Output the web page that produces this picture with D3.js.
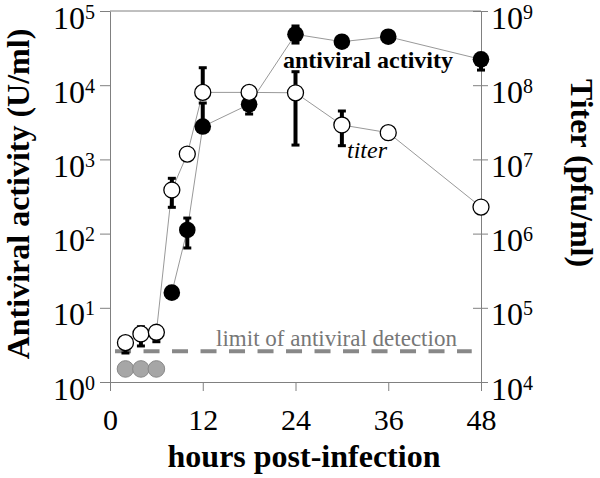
<!DOCTYPE html>
<html><head><meta charset="utf-8">
<script src="https://cdn.jsdelivr.net/npm/d3@7"></script>
<style>body{margin:0;background:#fff}svg{display:block}</style>
</head><body>
<svg id="c" width="600" height="478"></svg>
<script>
// Data
const hoursTicks = [0, 12, 24, 36, 48];
const leftTicks = [1, 10, 100, 1000, 10000, 100000];
const rightTicks = [1e4, 1e5, 1e6, 1e7, 1e8, 1e9];

const avHours = [8, 10, 12, 18, 24, 30, 36, 48];
const avValues = [16, 112, 2770, 5520, 48500, 38600, 45000, 22300];
const avLow = [16, 64, 2770, 4090, 37000, 38600, 45000, 16000];
const avHigh = [16, 162, 5750, 5520, 62800, 38600, 45000, 22300];

const titerHours = [2, 4, 6, 8, 10, 12, 18, 24, 30, 36, 48];
const titerValues = [3.39e4, 4.44e4, 4.68e4, 3.87e6, 1.18e7, 8.0e7, 8.0e7, 7.9e7, 2.91e7, 2.29e7, 2.28e6];
const titerLow = [2.46e4, 3.06e4, 3.49e4, 2.26e6, 1.18e7, 8.0e7, 8.0e7, 1.56e7, 1.53e7, 2.29e7, 2.28e6];
const titerHigh = [3.39e4, 5.56e4, 4.68e4, 5.56e6, 1.18e7, 1.72e8, 8.0e7, 1.52e8, 4.49e7, 2.29e7, 2.28e6];

const belowHours = [2, 4, 6];
const belowValues = [1.5, 1.5, 1.5];
const detectionLimit = 2.6;

const svg = d3.select("#c");
const L = 110, R = 481, T = 11, B = 382;
const x = d3.scaleLinear().domain([0, 48]).range([L, R]);
const yL = d3.scaleLog().domain([1, 1e5]).range([B, T]);
const yR = d3.scaleLog().domain([1e4, 1e9]).range([B, T]);
const serif = "'Liberation Serif','Times New Roman',serif";
const axisCol = "#808080";

function supLabels(g, anchor) {
  g.selectAll(".tick text").each(function(d) {
    const t = d3.select(this);
    const e = Math.round(Math.log10(d));
    t.text(null).attr("fill", "#000").style("font-family", serif).style("font-size", "32px")
      .attr("text-anchor", anchor).attr("dy", "17");
    t.append("tspan").text("10");
    t.append("tspan").text(e).attr("dy", "-10").style("font-size", "20px");
  });
}

// bottom axis
const gx = svg.append("g").attr("transform", `translate(0,${B})`)
  .call(d3.axisBottom(x).tickValues(hoursTicks).tickSize(9).tickPadding(8).tickSizeOuter(0));
gx.select(".domain").attr("stroke", axisCol);
gx.selectAll(".tick line").attr("stroke", axisCol);
gx.selectAll(".tick text").style("font-family", serif).style("font-size", "30px").attr("fill", "#000")
  .attr("dy", null).attr("y", 48);

// left axis
const gl = svg.append("g").attr("transform", `translate(${L},0)`)
  .call(d3.axisLeft(yL).tickValues(leftTicks).tickSize(10).tickPadding(5).tickSizeOuter(0));
gl.select(".domain").attr("stroke", axisCol);
gl.selectAll(".tick line").attr("stroke", axisCol);
supLabels(gl, "end");

// right axis (ticks crossing)
const gr = svg.append("g").attr("transform", `translate(${R},0)`)
  .call(d3.axisRight(yR).tickValues(rightTicks).tickSize(7).tickPadding(3).tickSizeOuter(0));
gr.select(".domain").attr("stroke", axisCol);
gr.selectAll(".tick line").attr("stroke", axisCol).attr("x1", -8);
supLabels(gr, "start");

// top frame
svg.append("line").attr("x1", L).attr("x2", R).attr("y1", T).attr("y2", T).attr("stroke", axisCol);

// detection limit
svg.append("line").attr("x1", x(0.65)).attr("x2", x(46.8))
  .attr("y1", yL(detectionLimit)).attr("y2", yL(detectionLimit))
  .attr("stroke", "#888").attr("stroke-width", 4).attr("stroke-dasharray", "16 12.5");
svg.append("text").attr("x", 336.5).attr("y", 346).attr("text-anchor", "middle")
  .style("font-family", serif).style("font-size", "23px").attr("fill", "#777")
  .text("limit of antiviral detection");

// connecting lines
const avData = avHours.map((h, i) => ({h, v: avValues[i], lo: avLow[i], hi: avHigh[i]}));
const tData = titerHours.map((h, i) => ({h, v: titerValues[i], lo: titerLow[i], hi: titerHigh[i]}));
svg.append("path").datum(avData).attr("fill", "none").attr("stroke", "#999").attr("stroke-width", 1)
  .attr("d", d3.line().x(d => x(d.h)).y(d => yL(d.v)));
svg.append("path").datum(tData).attr("fill", "none").attr("stroke", "#999").attr("stroke-width", 1)
  .attr("d", d3.line().x(d => x(d.h)).y(d => yR(d.v)));

function errBars(data, y) {
  const g = svg.append("g");
  data.forEach(d => {
    [d.lo, d.hi].forEach(e => {
      if (e === d.v) return;
      g.append("line").attr("x1", x(d.h)).attr("x2", x(d.h)).attr("y1", y(d.v)).attr("y2", y(e))
        .attr("stroke", "#000").attr("stroke-width", 4);
      g.append("rect").attr("x", x(d.h) - 4).attr("y", y(e) - 1.5).attr("width", 8).attr("height", 3).attr("fill", "#000");
    });
  });
}
errBars(avData, yL);
errBars(tData, yR);

// markers
svg.append("g").selectAll("circle").data(avData).join("circle")
  .attr("cx", d => x(d.h)).attr("cy", d => yL(d.v)).attr("r", 8.3).attr("fill", "#000");
svg.append("g").selectAll("circle").data(tData).join("circle")
  .attr("cx", d => x(d.h)).attr("cy", d => yR(d.v)).attr("r", 8).attr("fill", "#fff")
  .attr("stroke", "#000").attr("stroke-width", 1.3);
svg.append("g").selectAll("circle").data(belowHours.map((h, i) => ({h, v: belowValues[i]}))).join("circle")
  .attr("cx", d => x(d.h)).attr("cy", d => yL(d.v)).attr("r", 8.3).attr("fill", "#a6a6a6")
  .attr("stroke", "#888").attr("stroke-width", 1);

// series labels
svg.append("text").attr("x", 368).attr("y", 68).attr("text-anchor", "middle")
  .style("font-family", serif).style("font-weight", "bold").style("font-size", "24px").text("antiviral activity");
svg.append("text").attr("x", 367).attr("y", 158).attr("text-anchor", "middle")
  .style("font-family", serif).style("font-style", "italic").style("font-size", "24px").text("titer");

// axis titles
svg.append("text").attr("x", 304).attr("y", 467).attr("text-anchor", "middle")
  .style("font-family", serif).style("font-weight", "bold").style("font-size", "32px").text("hours post-infection");
svg.append("text").attr("transform", "translate(29,194) rotate(-90)").attr("text-anchor", "middle")
  .style("font-family", serif).style("font-weight", "bold").style("font-size", "32px").text("Antiviral activity (U/ml)");
svg.append("text").attr("transform", "translate(571,173) rotate(90)").attr("text-anchor", "middle")
  .style("font-family", serif).style("font-weight", "bold").style("font-size", "32px").text("Titer (pfu/ml)");
</script>
</body></html>
